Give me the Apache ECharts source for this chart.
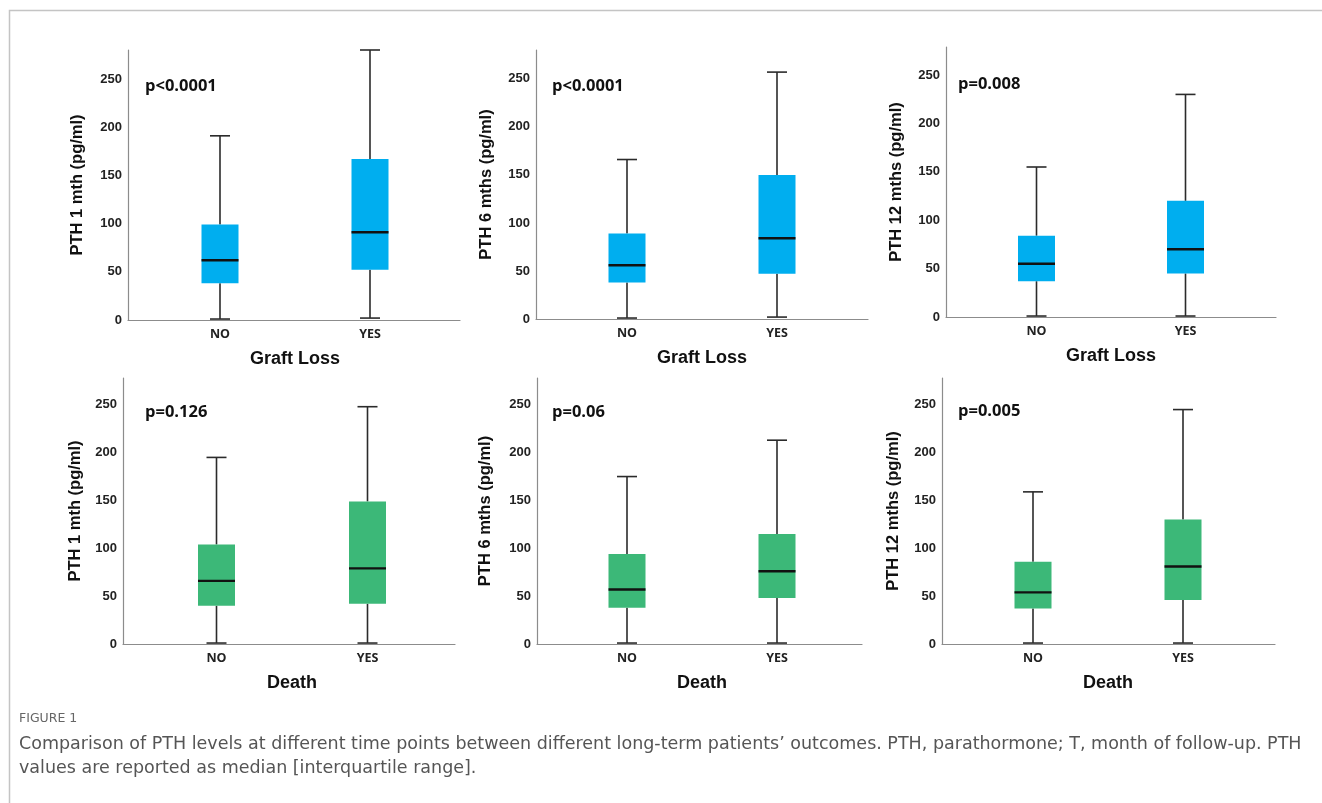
<!DOCTYPE html>
<html>
<head>
<meta charset="utf-8">
<script src="https://cdn.jsdelivr.net/npm/echarts@6/dist/echarts.min.js"></script>
<style>
html,body{margin:0;padding:0;background:#fff;}
#chart{width:1322px;height:803px;}
</style>
</head>
<body>
<div id="chart"></div>
<script>
// ---- data (min, Q1, median, Q3, max) ----
const categories = ['NO', 'YES'];
const yTickLabels = [0, 50, 100, 150, 200, 250];
const graftLoss1m  = [[1, 38, 62, 99, 191], [2, 52, 91, 167, 280]];
const graftLoss6m  = [[1, 38, 56, 89, 166], [2, 47, 84, 150, 257]];
const graftLoss12m = [[1, 37, 55, 84, 155], [1, 45, 70, 120, 230]];
const death1m  = [[1, 40, 66, 104, 195], [1, 42, 79, 149, 248]];
const death6m  = [[1, 38, 57, 94, 175], [1, 48, 76, 115, 213]];
const death12m = [[1, 37, 54, 86, 159], [1, 46, 81, 130, 245]];
const pValues = ['p<0.0001', 'p<0.0001', 'p=0.008', 'p=0.126', 'p=0.06', 'p=0.005'];
const yTitles = ['PTH 1 mth (pg/ml)', 'PTH 6 mths (pg/ml)', 'PTH 12 mths (pg/ml)',
                 'PTH 1 mth (pg/ml)', 'PTH 6 mths (pg/ml)', 'PTH 12 mths (pg/ml)'];
const xTitles = ['Graft Loss', 'Graft Loss', 'Graft Loss', 'Death', 'Death', 'Death'];
const captionHead = 'FIGURE 1';
const captionText = 'Comparison of PTH levels at different time points between different long-term patients\u2019 outcomes. PTH, parathormone; T, month of follow-up. PTH\nvalues are reported as median [interquartile range].';

const panelData = [graftLoss1m, graftLoss6m, graftLoss12m, death1m, death6m, death12m];

// ---- layout / style ----
const BLUE = '#00AEEF', GREEN = '#3CB878';
const panels = [
  {ax:128, aw:332, top:50,  h:270, bl:145, bw:300, yMax:280, color:BLUE,  nameGap:42, pX:145, pY:85},
  {ax:536, aw:332, top:50,  h:269, bl:552, bw:300, yMax:280, color:BLUE,  nameGap:41, pX:552, pY:85},
  {ax:946, aw:330, top:47,  h:270, bl:962, bw:298, yMax:279, color:BLUE,  nameGap:41, pX:958, pY:83},
  {ax:123, aw:332, top:378, h:266, bl:141, bw:302, yMax:278, color:GREEN, nameGap:39, pX:145, pY:411},
  {ax:537, aw:325, top:378, h:266, bl:552, bw:300, yMax:278, color:GREEN, nameGap:43, pX:552, pY:411},
  {ax:942, aw:333, top:378, h:266, bl:958, bw:300, yMax:278, color:GREEN, nameGap:40, pX:958, pY:410}
];

const grid = [], xAxis = [], yAxis = [], series = [], titles = [];
const AXIS_COLOR = '#8c8c8c';

panels.forEach((p, i) => {
  const gA = grid.length;
  grid.push({left:p.ax, top:p.top, width:p.aw, height:p.h, containLabel:false});
  const gB = grid.length;
  grid.push({left:p.bl, top:p.top, width:p.bw, height:p.h, containLabel:false});

  // grid A: visible axis lines, y labels, y title
  xAxis.push({gridIndex:gA, type:'value', min:0, max:1,
    axisLine:{show:true, onZero:false, lineStyle:{color:AXIS_COLOR, width:1.2}},
    axisTick:{show:false}, axisLabel:{show:false}, splitLine:{show:false}});
  yAxis.push({gridIndex:gA, type:'value', min:0, max:p.yMax, interval:50,
    axisLine:{show:true, lineStyle:{color:AXIS_COLOR, width:1.2}},
    axisTick:{show:false}, splitLine:{show:false},
    axisLabel:{show:true, showMaxLabel:false, margin:6, color:'#222', fontSize:13,
      fontWeight:'bold', fontFamily:'Liberation Sans, Arial, sans-serif',
      formatter: v => (yTickLabels.indexOf(v) >= 0 ? String(v) : '')},
    name: yTitles[i], nameLocation:'middle', nameGap:p.nameGap,
    nameTextStyle:{color:'#111', fontSize:16.5, fontWeight:'bold', fontFamily:'Liberation Sans, Arial, sans-serif'}});

  // grid B: category axis for boxes
  xAxis.push({gridIndex:gB, type:'category', data:categories, boundaryGap:true,
    axisLine:{show:false}, axisTick:{show:false}, splitLine:{show:false},
    axisLabel:{margin:8, color:'#222', fontSize:12.5, fontWeight:'bold', fontFamily:'Open Sans, sans-serif'},
    name: xTitles[i], nameLocation:'middle', nameGap:30,
    nameTextStyle:{color:'#111', fontSize:18, fontWeight:'bold', fontFamily:'Liberation Sans, Arial, sans-serif'}});
  yAxis.push({gridIndex:gB, type:'value', min:0, max:p.yMax, show:false});

  const data = panelData[i].map((d, k) => [k].concat(d));
  series.push({
    type:'custom', xAxisIndex:xAxis.length - 1, yAxisIndex:yAxis.length - 1,
    encode:{x:0, y:[1,2,3,4,5]},
    data: data,
    renderItem: function (params, api) {
      const c = api.value(0);
      const pMin = api.coord([c, api.value(1)]);
      const pQ1 = api.coord([c, api.value(2)]);
      const pMed = api.coord([c, api.value(3)]);
      const pQ3 = api.coord([c, api.value(4)]);
      const pMax = api.coord([c, api.value(5)]);
      const x = pMed[0];
      const bw = 37, cw = 20;
      const ws = {stroke:'#2b2b2b', lineWidth:1.6};
      return {type:'group', children:[
        {type:'line', shape:{x1:x, y1:pMax[1], x2:x, y2:pQ3[1]}, style:ws},
        {type:'line', shape:{x1:x, y1:pQ1[1], x2:x, y2:pMin[1]}, style:ws},
        {type:'line', shape:{x1:x - cw/2, y1:pMax[1], x2:x + cw/2, y2:pMax[1]}, style:ws},
        {type:'line', shape:{x1:x - cw/2, y1:pMin[1], x2:x + cw/2, y2:pMin[1]}, style:ws},
        {type:'rect', shape:{x:x - bw/2, y:pQ3[1], width:bw, height:pQ1[1] - pQ3[1]},
          style:{fill:p.color, stroke:null}},
        {type:'line', shape:{x1:x - bw/2, y1:pMed[1], x2:x + bw/2, y2:pMed[1]},
          style:{stroke:'#111', lineWidth:2.4}}
      ]};
    }
  });

  titles.push({text:pValues[i], left:p.pX, top:p.pY - 7, padding:0,
    textStyle:{color:'#111', fontSize:16.5, fontWeight:'bold', fontFamily:'Open Sans, sans-serif'}});
});

titles.push({text:captionHead, left:19, top:712, padding:0,
  textStyle:{color:'#666', fontSize:12.5, fontWeight:'normal', fontFamily:'DejaVu Sans, sans-serif'}});
titles.push({text:captionText, left:19, top:732, padding:0,
  textStyle:{color:'#555', fontSize:17.5, fontWeight:'normal', lineHeight:24, fontFamily:'DejaVu Sans, sans-serif'}});

const chart = echarts.init(document.getElementById('chart'), null, {renderer:'canvas'});
chart.setOption({
  backgroundColor:'#fff',
  animation:false,
  title: titles,
  grid: grid,
  xAxis: xAxis,
  yAxis: yAxis,
  series: series,
  graphic:[{type:'rect', shape:{x:9.5, y:10.5, width:1400, height:900},
    style:{fill:'none', stroke:'#c4c4c4', lineWidth:1.5}, silent:true}]
});
</script>
</body>
</html>
